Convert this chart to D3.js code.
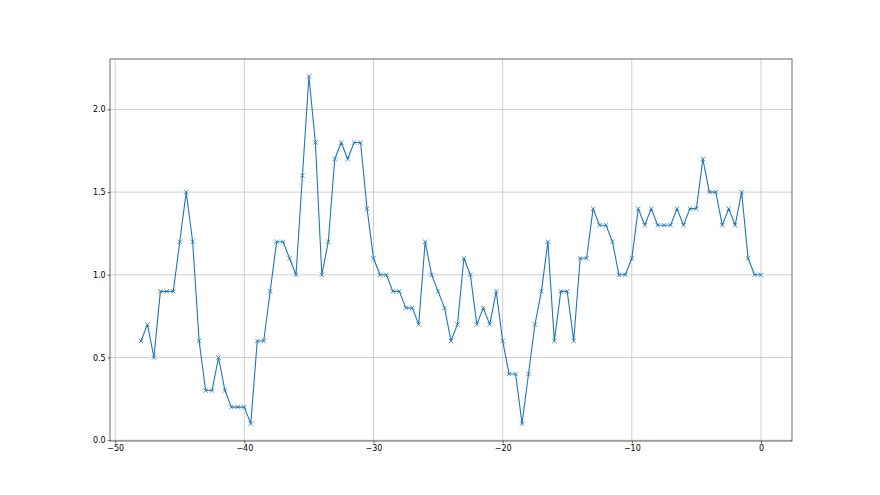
<!DOCTYPE html>
<html>
<head>
<meta charset="utf-8">
<script src="https://cdn.jsdelivr.net/npm/d3@7"></script>
<style>
  body { margin: 0; background: #fff; }
  svg { display: block; }
  .tick text { font-family: "DejaVu Sans", sans-serif; font-size: 8px; fill: #000; }
</style>
</head>
<body>
<svg id="chart" width="880" height="495"></svg>
<script>
// x positions (every half step from -48 to 0)
const xValues = [
  -48, -47.5, -47, -46.5, -46, -45.5, -45, -44.5, -44, -43.5,
  -43, -42.5, -42, -41.5, -41, -40.5, -40, -39.5, -39, -38.5,
  -38, -37.5, -37, -36.5, -36, -35.5, -35, -34.5, -34, -33.5,
  -33, -32.5, -32, -31.5, -31, -30.5, -30, -29.5, -29, -28.5,
  -28, -27.5, -27, -26.5, -26, -25.5, -25, -24.5, -24, -23.5,
  -23, -22.5, -22, -21.5, -21, -20.5, -20, -19.5, -19, -18.5,
  -18, -17.5, -17, -16.5, -16, -15.5, -15, -14.5, -14, -13.5,
  -13, -12.5, -12, -11.5, -11, -10.5, -10, -9.5, -9, -8.5,
  -8, -7.5, -7, -6.5, -6, -5.5, -5, -4.5, -4, -3.5,
  -3, -2.5, -2, -1.5, -1, -0.5, 0
];

const yValues = [
  0.6, 0.7, 0.5, 0.9, 0.9, 0.9, 1.2, 1.5, 1.2, 0.6,
  0.3, 0.3, 0.5, 0.3, 0.2, 0.2, 0.2, 0.1, 0.6, 0.6,
  0.9, 1.2, 1.2, 1.1, 1.0, 1.6, 2.2, 1.8, 1.0, 1.2,
  1.7, 1.8, 1.7, 1.8, 1.8, 1.4, 1.1, 1.0, 1.0, 0.9,
  0.9, 0.8, 0.8, 0.7, 1.2, 1.0, 0.9, 0.8, 0.6, 0.7,
  1.1, 1.0, 0.7, 0.8, 0.7, 0.9, 0.6, 0.4, 0.4, 0.1,
  0.4, 0.7, 0.9, 1.2, 0.6, 0.9, 0.9, 0.6, 1.1, 1.1,
  1.4, 1.3, 1.3, 1.2, 1.0, 1.0, 1.1, 1.4, 1.3, 1.4,
  1.3, 1.3, 1.3, 1.4, 1.3, 1.4, 1.4, 1.7, 1.5, 1.5,
  1.3, 1.4, 1.3, 1.5, 1.1, 1.0, 1.0
];

const xTicks = [-50, -40, -30, -20, -10, 0];
const yTicks = [0.0, 0.5, 1.0, 1.5, 2.0];

const svg = d3.select('#chart');
const margin = { top: 59, right: 88, bottom: 54, left: 110 };
const width = +svg.attr('width');
const height = +svg.attr('height');

const data = xValues.map((x, i) => ({ x: x, y: yValues[i] }));

// matplotlib style 5% padding around the data
const xExt = d3.extent(xValues), yExt = d3.extent(yValues);
const xPad = (xExt[1] - xExt[0]) * 0.05, yPad = (yExt[1] - yExt[0]) * 0.05;

const x = d3.scaleLinear()
  .domain([xExt[0] - xPad, xExt[1] + xPad])
  .range([margin.left, width - margin.right]);
const y = d3.scaleLinear()
  .domain([yExt[0] - yPad, yExt[1] + yPad])
  .range([height - margin.bottom, margin.top]);

// grid
svg.append('g')
  .selectAll('line.vg')
  .data(xTicks)
  .enter().append('line')
  .attr('x1', d => x(d)).attr('x2', d => x(d))
  .attr('y1', margin.top).attr('y2', height - margin.bottom)
  .attr('stroke', '#b0b0b0').attr('stroke-width', 0.6);

svg.append('g')
  .selectAll('line.hg')
  .data(yTicks)
  .enter().append('line')
  .attr('x1', margin.left).attr('x2', width - margin.right)
  .attr('y1', d => y(d)).attr('y2', d => y(d))
  .attr('stroke', '#b0b0b0').attr('stroke-width', 0.6);

// line
const line = d3.line().x(d => x(d.x)).y(d => y(d.y));
svg.append('path')
  .datum(data)
  .attr('fill', 'none')
  .attr('stroke', '#1f77b4')
  .attr('stroke-width', 1.1)
  .attr('stroke-linejoin', 'round')
  .attr('d', line);

// x markers
const m = 2.2;
svg.append('g')
  .selectAll('path')
  .data(data)
  .enter().append('path')
  .attr('d', d => {
    const cx = x(d.x), cy = y(d.y);
    return `M${cx - m},${cy - m}L${cx + m},${cy + m}M${cx - m},${cy + m}L${cx + m},${cy - m}`;
  })
  .attr('stroke', '#1f77b4')
  .attr('stroke-width', 0.8);

// axes
const xAxis = svg.append('g')
  .attr('transform', `translate(0,${height - margin.bottom})`)
  .call(d3.axisBottom(x).tickValues(xTicks).tickSize(2.4).tickPadding(2)
    .tickFormat(d => d3.format('d')(d).replace('-', '\u2212')));
const yAxis = svg.append('g')
  .attr('transform', `translate(${margin.left},0)`)
  .call(d3.axisLeft(y).tickValues(yTicks).tickSize(2.4).tickPadding(2)
    .tickFormat(d3.format('.1f')));
[xAxis, yAxis].forEach(g => {
  g.select('.domain').remove();
  g.selectAll('.tick line').attr('stroke', '#000').attr('stroke-width', 0.6);
});

// frame
svg.append('rect')
  .attr('x', margin.left).attr('y', margin.top)
  .attr('width', width - margin.left - margin.right)
  .attr('height', height - margin.top - margin.bottom)
  .attr('fill', 'none')
  .attr('stroke', '#000')
  .attr('stroke-width', 0.6);
</script>
</body>
</html>
